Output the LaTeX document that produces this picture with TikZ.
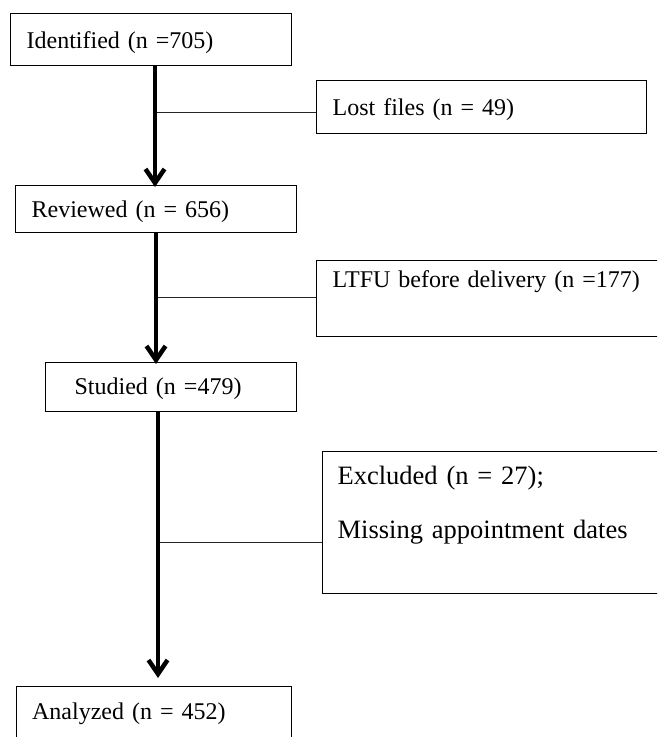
\documentclass[tikz,border=0pt]{standalone}
\usepackage{fontspec}
\setmainfont{Liberation Serif}
\usetikzlibrary{arrows.meta}

\begin{document}
\begin{tikzpicture}[x=1pt,y=-1pt,
  stage/.style={draw,line width=1.3pt,anchor=north west,align=left,
    inner xsep=16pt,inner ysep=0pt,font=\fontsize{24}{28}\selectfont},
  flow/.style={line width=4.5pt,-{Straight Barb[length=14pt,width=19pt]}},
  branch/.style={line width=1pt,black!85}]

\path[use as bounding box,clip] (0,0) rectangle (657,737);

%% main column
\node (ident) at (10,13) [stage,text width=249pt,text height=35pt,text depth=17pt] {Identified (n =705)};
\node (review) at (15,185) [stage,text width=249pt,text height=32pt,text depth=15pt] {Reviewed (n = 656)};
\node (study) at (45,362) [stage,inner xsep=29pt,text width=193pt,text height=32pt,text depth=17pt] {Studied (n =479)};
\node (anal) at (15.5,686) [stage,text width=243pt,text height=33pt,text depth=40pt] {Analyzed (n = 452)};

%% side boxes
\node (lost) at (316,80) [stage,text width=298pt,text height=35pt,text depth=18pt] {Lost files (n = 49)};
\node (ltfu) at (316,260) [stage,text width=342pt,text height=27pt,text depth=49pt] {LTFU before delivery (n =177)};
\node (excl) at (322,451) [stage,inner xsep=15pt,text width=338pt,text height=33pt,text depth=109pt,
  font=\fontsize{26.5}{31}\selectfont] {Excluded (n = 27);\\[23pt]Missing appointment dates};

%% arrows
\coordinate (c1) at (155,0);
\coordinate (c2) at (156,0);
\coordinate (c3) at (158,0);
\draw[flow] (ident.south -| c1) -- ([yshift=-2pt]review.north -| c1);
\draw[flow] (review.south -| c2) -- ([yshift=-2pt]study.north -| c2);
\draw[flow,shorten >=8pt] (study.south -| c3) -- (anal.north -| c3);

%% branches
\coordinate (j1) at (157,112);
\coordinate (j2) at (158,297);
\coordinate (j3) at (160,542);
\draw[branch] (j1) -- (j1 -| lost.west);
\draw[branch] (j2) -- (j2 -| ltfu.west);
\draw[branch] (j3) -- (j3 -| excl.west);

\end{tikzpicture}
\end{document}
